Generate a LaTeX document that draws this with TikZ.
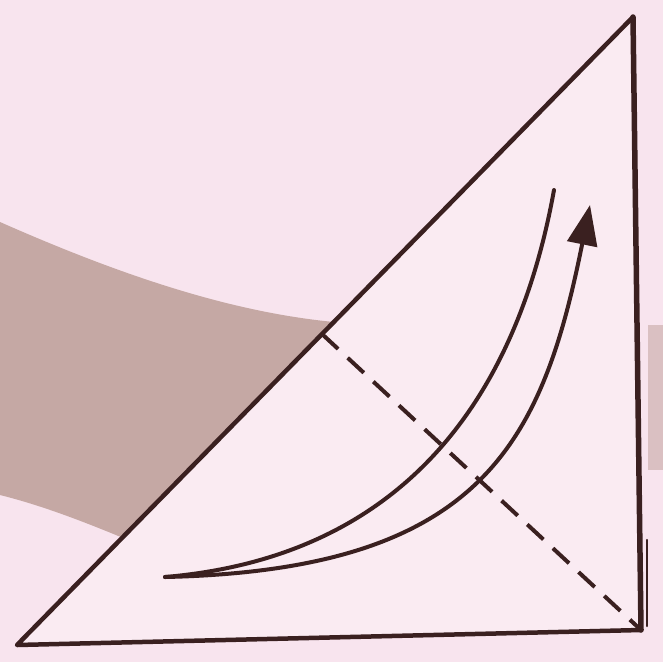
\documentclass[tikz,border=0pt]{standalone}
\usetikzlibrary{arrows.meta}
\definecolor{PaperPink}{RGB}{248,228,238}
\definecolor{BandBrown}{RGB}{197,168,164}
\definecolor{InkBrown}{RGB}{58,32,32}
\tikzset{
  edgeline/.style={draw=InkBrown, line width=4.5pt, line join=round, line cap=round},
  creaseline/.style={draw=InkBrown, line width=4pt, dash pattern=on 22pt off 13pt},
  moveline/.style={draw=InkBrown, line width=4pt, line cap=round}
}

\begin{document}
\begin{tikzpicture}[x=1pt, y=-1pt]
    \fill[PaperPink] (0,0) rectangle (663,662);
    \useasboundingbox (0,0) rectangle (663,662);

    % band of the page behind the paper
    \fill[BandBrown] (0,222) .. controls (120,275) and (230,312) .. (334,322) -- (330,560) -- (128,540) .. controls (80,520) and (40,505) .. (0,495) -- cycle;
    \fill[BandBrown!60!PaperPink] (648,325) rectangle (663,470);

    \coordinate (apex) at (633,17);
    \coordinate (left) at (17,645);
    \coordinate (right) at (641,630);
    \coordinate (crease) at (322,334);
    \coordinate (layer) at (647,540);
    \coordinate (layerend) at (647,626);

    % the folded paper
    \fill[PaperPink!75!white] (left) -- (apex) -- (right) -- cycle;
    \draw[creaseline] (crease) -- (right);
    \draw[edgeline] (right) -- (left) -- (apex);
    \draw[edgeline, line width=5.5pt] (apex) -- (right);
    \draw[edgeline, line width=2.5pt] (layer) -- (layerend);

    % fold movement
    \coordinate (start) at (165,577);
    \coordinate (tail) at (554,190);
    \coordinate (tip) at (590,205);
    \draw[moveline] (start) .. controls (423,555) and (521,373) .. (tail);
    \draw[moveline, -{Triangle[length=40pt, width=30pt]}] (start) .. controls (481,570) and (542,444) .. (tip);
\end{tikzpicture}
\end{document}
